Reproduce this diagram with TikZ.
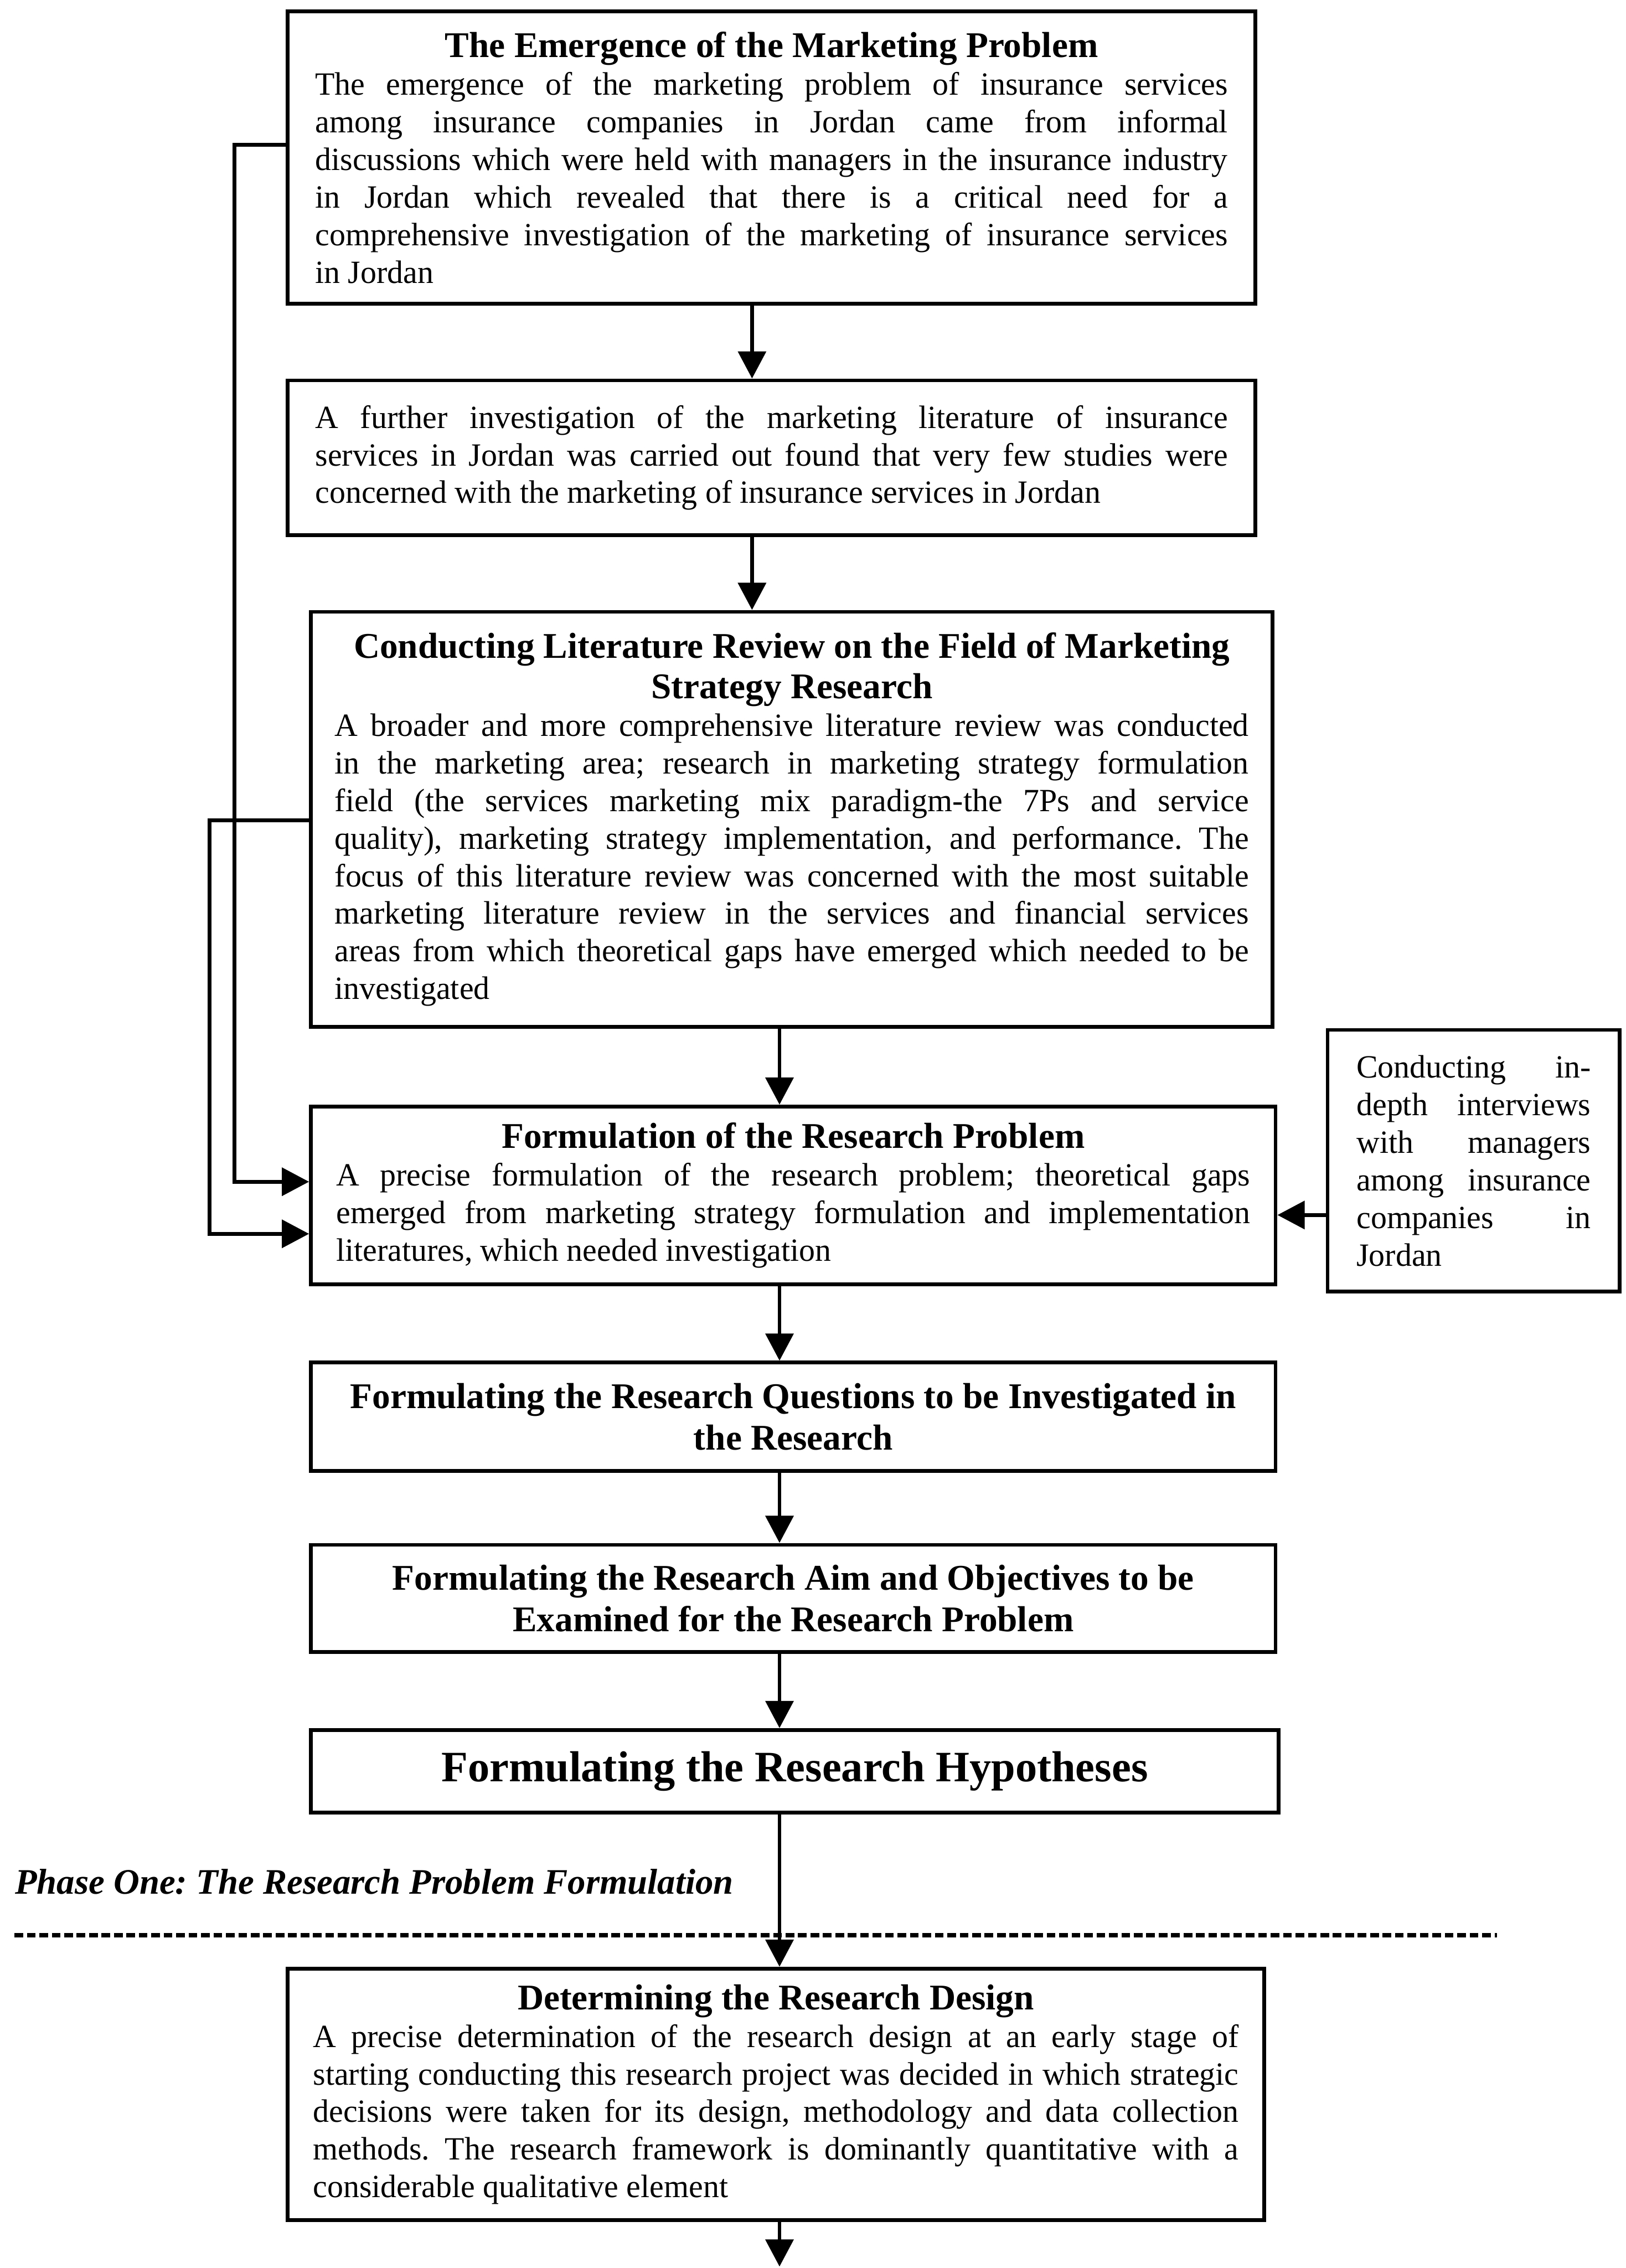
\documentclass[tikz,border=0pt]{standalone}
\usepackage{fontspec}
\setmainfont{Liberation Serif}
\newfontfamily\bodyfont{Liberation Serif}[FakeStretch=0.99]
\usetikzlibrary{arrows.meta}
\frenchspacing
\newcommand\boxttl[1]{{\centering\normalfont\fontsize{12.5}{14}\selectfont\bfseries #1\par}}
\begin{document}
\begin{tikzpicture}[x=0.5pt,y=-0.5pt,
  box/.style={draw, line width=1.3pt, inner sep=0pt, align=justify,
    font={\bodyfont\fontsize{11.2}{13}\selectfont\frenchspacing\parindent=0pt\hyphenpenalty=10000\tolerance=10000}},
  tbox/.style={draw, line width=1.3pt, inner sep=0pt, align=center,
    font={\fontsize{12.5}{14.5}\selectfont\bfseries}},
  arr/.style={line width=1.3pt, -{Triangle[length=9.4pt,width=9.6pt]}},
  phaseline/.style={line width=1.6pt, dash pattern=on 3pt off 1.3pt}]
\useasboundingbox (0,0) rectangle (1124,1568);

\node[box, minimum width=334.5pt, minimum height=101pt, text width=315.5pt] (b1) at (533.5,109)
 {\boxttl{The Emergence of the Marketing Problem}The emergence of the marketing problem of insurance services\linebreak
 among insurance companies in Jordan came from informal\linebreak
 discussions which were held with managers in the insurance industry\linebreak
 in Jordan which revealed that there is a critical need for a\linebreak
 comprehensive investigation of the marketing of insurance services\linebreak
 in Jordan};

\node[box, minimum width=334.5pt, minimum height=53.5pt, text width=315.5pt] (b2) at (533.5,316.5)
 {A further investigation of the marketing literature of insurance\linebreak
 services in Jordan was carried out found that very few studies were\linebreak
 concerned with the marketing of insurance services in Jordan};

\node[box, minimum width=332.5pt, minimum height=143.5pt, text width=316pt] (b3) at (547.5,566.5)
 {\boxttl{Conducting Literature Review on the Field of Marketing\\ Strategy Research}A broader and more comprehensive literature review was conducted\linebreak
 in the marketing area; research in marketing strategy formulation\linebreak
 field (the services marketing mix paradigm-the 7Ps and service\linebreak
 quality), marketing strategy implementation, and performance. The\linebreak
 focus of this literature review was concerned with the most suitable\linebreak
 marketing literature review in the services and financial services\linebreak
 areas from which theoretical gaps have emerged which needed to be\linebreak
 investigated};

\node[box, minimum width=333.5pt, minimum height=61.5pt, text width=316pt] (b4) at (548.5,826.5)
 {\boxttl{Formulation of the Research Problem}A precise formulation of the research problem; theoretical gaps\linebreak
 emerged from marketing strategy formulation and implementation\linebreak
 literatures, which needed investigation};

\node[box, minimum width=101pt, minimum height=90.5pt, text width=81pt] (side) at (1019,802.5)
 {Conducting in-\linebreak depth interviews\linebreak with managers\linebreak among insurance\linebreak companies in\linebreak Jordan};

\node[tbox, minimum width=333.5pt, minimum height=37.5pt] (b5) at (548.5,979.5)
 {Formulating the Research Questions to be Investigated in\\ the Research};

\node[tbox, minimum width=333.5pt, minimum height=37pt] (b6) at (548.5,1105)
 {Formulating the Research Aim and Objectives to be\\ Examined for the Research Problem};

\node[tbox, minimum width=334.5pt, minimum height=28.5pt, font={\fontsize{15}{17}\selectfont\bfseries}] (b7) at (549.5,1224.5)
 {Formulating the Research Hypotheses};

\node[anchor=west, inner sep=0pt, font={\fontsize{12.4}{14}\selectfont\bfseries\itshape}] (phase) at (10,1301)
 {Phase One: The Research Problem Formulation};

\node[box, minimum width=337.5pt, minimum height=87pt, text width=320pt] (b8) at (536.5,1448)
 {\boxttl{Determining the Research Design}A precise determination of the research design at an early stage of\linebreak
 starting conducting this research project was decided in which strategic\linebreak
 decisions were taken for its design, methodology and data collection\linebreak
 methods. The research framework is dominantly quantitative with a\linebreak
 considerable qualitative element};

\coordinate (xa) at (520,0);
\coordinate (xb) at (539,0);
\coordinate (l1) at (162,0);
\coordinate (l2) at (145,0);
\coordinate (y1) at (0,100);
\coordinate (y2) at (0,817);
\coordinate (y3) at (0,567);
\coordinate (y4) at (0,853);
\coordinate (ys) at (0,840);
\coordinate (d1) at (10,1338);
\coordinate (d2) at (1035,1338);
\coordinate (bot) at (539,1567);

\draw[arr] (b1.south -| xa) -- (b2.north -| xa);
\draw[arr] (b2.south -| xa) -- (b3.north -| xa);
\draw[arr] (b3.south -| xb) -- (b4.north -| xb);
\draw[arr] (b4.south -| xb) -- (b5.north -| xb);
\draw[arr] (b5.south -| xb) -- (b6.north -| xb);
\draw[arr] (b6.south -| xb) -- (b7.north -| xb);
\draw[arr] (b7.south -| xb) -- (b8.north -| xb);
\draw[arr] (b8.south -| xb) -- (bot);

\draw[arr] (b1.west |- y1) -- (l1 |- y1) -- (l1 |- y2) -- (b4.west |- y2);
\draw[arr] (b3.west |- y3) -- (l2 |- y3) -- (l2 |- y4) -- (b4.west |- y4);
\draw[arr] (side.west |- ys) -- (b4.east |- ys);

\draw[phaseline] (d1) -- (d2);
\end{tikzpicture}
\end{document}
